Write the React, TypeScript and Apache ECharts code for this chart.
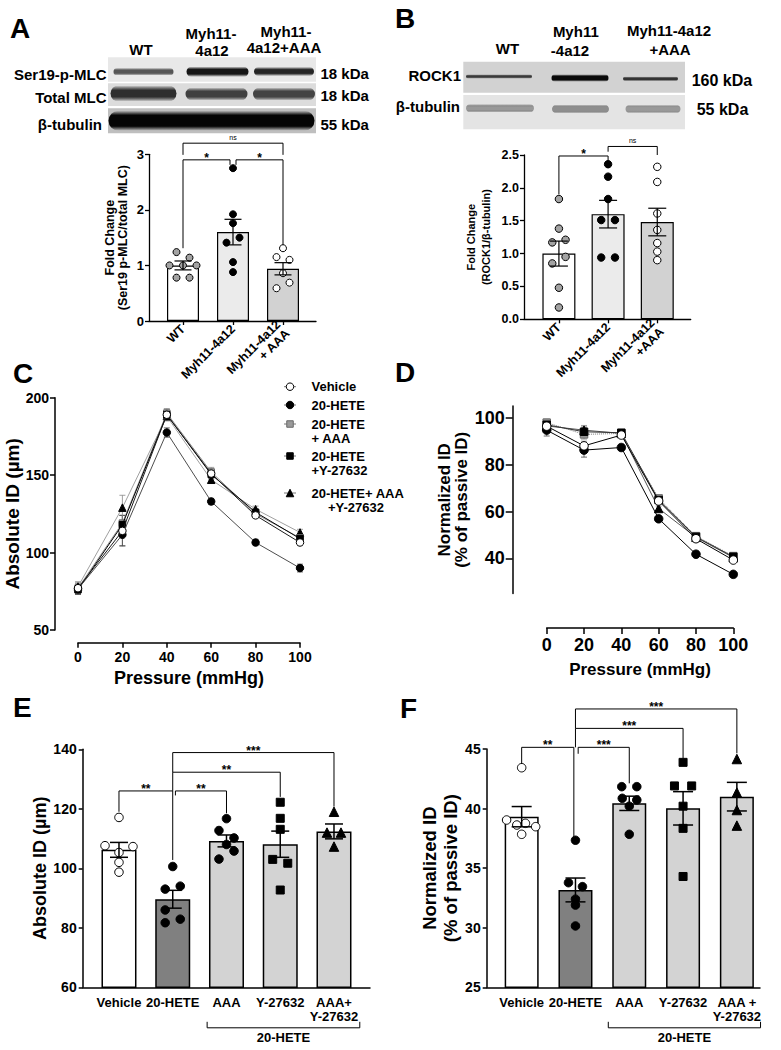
import React, { useEffect, useRef } from "react";
import * as echarts from "echarts";

const FONT = "'Liberation Sans', Arial, Helvetica, sans-serif";

/* ================= DATA ================= */
// Panel A – Ser19 p-MLC / total MLC
const aCategories = ["WT", "Myh11-4a12", "Myh11-4a12\n+ AAA"];
const aMeans = [1.0, 1.6, 0.94];
const aSem = [0.08, 0.23, 0.11];
const aWT = [1.24, 1.14, 1.0, 1.0, 1.0, 0.78, 0.78];
const aMyh = [2.75, 1.92, 1.76, 1.5, 1.41, 1.06, 0.88];
const aAAA = [1.31, 1.15, 1.1, 0.86, 0.69, 0.59];
const aJitWT = [-0.13, 0.13, -0.27, 0, 0.27, -0.13, 0.13];
const aJitMyh = [0, 0, 0, 0.13, -0.13, 0, 0];
const aJitAAA = [0, -0.13, 0.13, 0, 0.13, -0.13];
// bracket: [x1, x2, yTop, yLeftEnd, yRightEnd]
const aBrackets = [
  [0, 0.94, 2.9, 1.31, 2.81],
  [1.06, 2, 2.9, 2.81, 1.37],
  [0, 2, 3.2, 2.99, 2.99],
];
const aBracketLabels = ["*", "*", "ns"];

// Panel B – ROCK1 / beta-tubulin
const bCategories = ["WT", "Myh11-4a12", "Myh11-4a12\n+AAA"];
const bMeans = [1.0, 1.6, 1.48];
const bSem = [0.19, 0.21, 0.21];
const bWT = [1.83, 1.38, 1.21, 1.17, 0.95, 0.85, 0.48, 0.18];
const bMyh = [2.36, 2.17, 1.83, 1.51, 1.51, 0.94, 0.94];
const bAAA = [2.32, 2.09, 1.61, 1.36, 1.16, 1.03, 0.9];
const bJitWT = [0, 0, 0.135, -0.135, 0.135, -0.135, 0, 0];
const bJitMyh = [0, 0, 0, -0.14, 0.14, -0.14, 0.14];
const bJitAAA = [0, 0, 0, 0, 0, 0, 0];
const bBrackets = [
  [0, 1, 2.485, 1.9, 2.42],
  [1, 2, 2.63, 2.55, 2.5],
];
const bBracketLabels = ["*", "ns"];

// Panels C and D – pressure curves
const pressures = [0, 20, 40, 60, 80, 100];
const conditionNames = ["Vehicle", "20-HETE", "20-HETE + AAA", "20-HETE +Y-27632", "20-HETE+ AAA +Y-27632"];
const cVehicle = [77, 114, 189, 151, 124, 106.5];
const cHete = [76.5, 111.5, 177.5, 133, 106.5, 90];
const cHeteAAA = [77, 119, 190, 152, 125, 109.5];
const cHeteY = [76, 118, 189, 150.5, 126, 109];
const cHeteAAAY = [78, 129, 188, 147, 128, 113];
const cVehicleSem = [4, 10, 3, 3, 2, 2];
const cHeteSem = [3, 7, 3, 2, 2, 2.5];
const cHeteAAASem = [3, 5, 3, 3, 2, 2];
const cHeteYSem = [3, 6, 3, 3, 2, 2];
const cHeteAAAYSem = [3, 8, 3, 2, 2, 2];

const dVehicle = [96.4, 88, 92.6, 64.5, 48.4, 39.3];
const dHete = [94.7, 86.2, 87.3, 56.9, 41.8, 33.2];
const dHeteAAA = [97.9, 92.9, 93.3, 65.6, 49.5, 41];
const dHeteY = [97, 94, 93.6, 64.9, 49.2, 40.7];
const dHeteAAAY = [96.5, 94.7, 93.3, 61.3, 49, 40.4];
const dVehicleSem = [2, 2, 1, 1, 1, 1];
const dHeteSem = [2.5, 3, 1, 1, 1, 1];
const dHeteAAASem = [1.5, 2, 1, 1.2, 1, 1];
const dHeteYSem = [1.5, 2, 1, 1, 1, 1];
const dHeteAAAYSem = [1.5, 2, 1, 1, 1, 1];
const dTicks = [40, 60, 80, 100];

// Panel E – absolute ID
const eCategories = ["Vehicle", "20-HETE", "AAA", "Y-27632", "AAA+\nY-27632"];
const eMeans = [106.2, 89.6, 109.2, 108.1, 112.4];
const eSem = [2.5, 3.0, 2.0, 4.4, 2.5];
const eVehicle = [117.1, 107.6, 107.3, 105.3, 102, 98.7];
const eHete = [100.6, 94, 93, 86, 82.9, 81.7];
const eAAA = [116.7, 112.7, 110.2, 108, 105.8, 103.1];
const eY = [122.2, 116.8, 113.1, 103, 101.7, 92.7];
const eAAAY = [119, 112, 112, 107.3];
const eJitVehicle = [0, -0.26, 0.26, 0, 0, 0];
const eJitHete = [0, 0.14, -0.14, -0.14, 0.14, -0.14];
const eJitAAA = [0, -0.14, 0.14, 0, 0.14, -0.14];
const eJitY = [0, 0, 0, -0.14, 0.14, 0];
const eJitAAAY = [0, -0.13, 0.13, 0];
const eBrackets = [
  [0, 1, 126, 119, 102.8],
  [1.05, 2, 126, 124.5, 118.5],
  [1, 3, 132.3, 126, 124],
  [1, 4, 138.9, 132.3, 120.7],
];
const eBracketLabels = ["**", "**", "**", "***"];
const eGroupSpan = [1.64, 4.48];

// Panel F – normalized ID
const fCategories = ["Vehicle", "20-HETE", "AAA", "Y-27632", "AAA +\nY-27632"];
const fMeans = [39.32, 33.17, 40.44, 40.02, 41.0];
const fSem = [0.85, 1.0, 0.6, 1.4, 1.2];
const fVehicle = [43.43, 39.04, 38.62, 38.76, 38.48, 37.84];
const fHete = [37.34, 33.78, 33.45, 32.4, 31.9, 30.15];
const fAAA = [41.84, 41.84, 40.86, 40.72, 40.2, 37.84];
const fY = [43.88, 41.9, 41.9, 40.2, 38.34, 34.3];
const fAAAY = [44.16, 41.34, 39.88, 38.57];
const fJitVehicle = [0, -0.28, -0.09, 0.07, 0.26, 0];
const fJitHete = [0, -0.13, 0.13, 0, 0, 0];
const fJitAAA = [-0.14, 0.14, -0.13, 0.14, 0, 0];
const fJitY = [0, -0.16, 0.16, 0, 0, 0];
const fJitAAAY = [0, 0, 0, 0];
const fBrackets = [
  [0, 0.97, 45.14, 43.74, 37.64],
  [1.05, 2, 45.14, 44.6, 42.12],
  [1, 3, 46.73, 45.14, 44.2],
  [1, 4, 48.36, 46.73, 44.64],
];
const fBracketLabels = ["**", "***", "***", "***"];
const fGroupSpan = [1.61, 4.44];

/* ================= STYLES / LAYOUT ================= */
const condStyles = [
  { symbol: "circle", fill: "#fff", border: "#000", cLine: "#1a1a1a", dLine: "#000", dash: "solid", size: 7.5, z: 8 },
  { symbol: "circle", fill: "#000", border: "#000", cLine: "#4d4d4d", dLine: "#000", dash: "solid", size: 7.5, z: 7 },
  { symbol: "rect", fill: "#9a9a9a", border: "#6a6a6a", cLine: "#8c8c8c", dLine: "#777", dash: "dotted", size: 6.5, z: 5 },
  { symbol: "rect", fill: "#000", border: "#000", cLine: "#000", dLine: "#333", dash: "solid", size: 6.5, z: 6 },
  { symbol: "triangle", fill: "#000", border: "#000", cLine: "#a0a0a0", dLine: "#555", dash: "solid", size: 7.5, z: 4 },
];

function txt(text: string, x: number, y: number, size: number, align = "left", vAlign = "middle", extra: any = {}) {
  return {
    type: "text",
    x,
    y,
    silent: true,
    style: {
      text,
      fontSize: size,
      fontWeight: "bold",
      fontFamily: FONT,
      fill: "#000",
      textAlign: align,
      align,
      textVerticalAlign: vAlign,
      verticalAlign: vAlign,
      ...extra,
    },
  };
}

function band(cx: number, cy: number, w: number, t: number, c: string, flat = 0.5) {
  const lo = (1 - flat) / 2;
  return {
    type: "rect",
    silent: true,
    shape: { x: cx - w / 2, y: cy - t, width: w, height: t * 2, r: t },
    style: {
      fill: new echarts.graphic.LinearGradient(0, 0, 0, 1, [
        { offset: 0, color: "rgba(0,0,0,0)" },
        { offset: lo, color: c },
        { offset: 1 - lo, color: c },
        { offset: 1, color: "rgba(0,0,0,0)" },
      ]),
    },
  };
}

function blotRow(x: number, y: number, w: number, h: number, bg: string) {
  return { type: "rect", silent: true, shape: { x, y, width: w, height: h }, style: { fill: bg } };
}

function symbolShape(kind: string, cx: number, cy: number, s: number, fill: string, stroke: string) {
  const style = { fill, stroke, lineWidth: 1 };
  if (kind === "circle") return { type: "circle", shape: { cx, cy, r: s / 2 }, style, silent: true };
  if (kind === "rect") return { type: "rect", shape: { x: cx - s / 2, y: cy - s / 2, width: s, height: s }, style, silent: true };
  return {
    type: "polygon",
    shape: { points: [[cx, cy - s / 2], [cx + s / 2, cy + s / 2], [cx - s / 2, cy + s / 2]] },
    style,
    silent: true,
  };
}

/* ================= SERIES BUILDERS ================= */
function errorSeries(grid: number, rows: number[][], cap: number, colorOf: (g: number) => string, width: number, z: number) {
  return {
    type: "custom",
    xAxisIndex: grid,
    yAxisIndex: grid,
    silent: true,
    z,
    data: rows,
    renderItem: (_p: any, api: any) => {
      const x = api.value(0);
      const lo = api.coord([x, api.value(1)]);
      const hi = api.coord([x, api.value(2)]);
      const stroke = colorOf(api.value(3));
      const st = { stroke, lineWidth: width };
      return {
        type: "group",
        children: [
          { type: "line", shape: { x1: lo[0], y1: lo[1], x2: hi[0], y2: hi[1] }, style: st },
          { type: "line", shape: { x1: hi[0] - cap, y1: hi[1], x2: hi[0] + cap, y2: hi[1] }, style: st },
          { type: "line", shape: { x1: lo[0] - cap, y1: lo[1], x2: lo[0] + cap, y2: lo[1] }, style: st },
        ],
      };
    },
  };
}

function bracketSeries(grid: number, brackets: number[][], labels: string[], starSize: number, nsSize: number) {
  return {
    type: "custom",
    xAxisIndex: grid,
    yAxisIndex: grid,
    silent: true,
    z: 6,
    data: brackets,
    renderItem: (p: any, api: any) => {
      const x1 = api.value(0), x2 = api.value(1), y = api.value(2), yl = api.value(3), yr = api.value(4);
      const a = api.coord([x1, yl]);
      const b = api.coord([x1, y]);
      const c = api.coord([x2, y]);
      const d = api.coord([x2, yr]);
      const label = labels[p.dataIndex];
      const ns = label === "ns";
      return {
        type: "group",
        children: [
          { type: "polyline", shape: { points: [a, b, c, d] }, style: { stroke: "#000", lineWidth: 1, fill: null } },
          {
            type: "text",
            x: (b[0] + c[0]) / 2,
            y: b[1] - (ns ? 6 : 2),
            style: {
              text: label,
              fontSize: ns ? nsSize : starSize,
              fontWeight: ns ? "normal" : "bold",
              fontFamily: FONT,
              fill: "#000",
              textAlign: "center",
              align: "center",
              textVerticalAlign: "middle",
              verticalAlign: "middle",
            },
          },
        ],
      };
    },
  };
}

function groupBracketSeries(grid: number, span: number[], yMin: number) {
  return {
    type: "custom",
    xAxisIndex: grid,
    yAxisIndex: grid,
    silent: true,
    z: 6,
    data: [span],
    renderItem: (_p: any, api: any) => {
      const p1 = api.coord([api.value(0), yMin]);
      const p2 = api.coord([api.value(1), yMin]);
      const y = p1[1] + 40.5;
      return {
        type: "group",
        children: [
          { type: "polyline", shape: { points: [[p1[0], y - 6], [p1[0], y], [p2[0], y], [p2[0], y - 6]] }, style: { stroke: "#000", lineWidth: 1, fill: null } },
          {
            type: "text",
            x: (p1[0] + p2[0]) / 2,
            y: y + 3,
            style: { text: "20-HETE", fontSize: 13, fontWeight: "bold", fontFamily: FONT, fill: "#000", textAlign: "center", align: "center", textVerticalAlign: "top", verticalAlign: "top" },
          },
        ],
      };
    },
  };
}

function barPanel(cfg: any) {
  const s: any[] = [];
  s.push({
    type: "bar",
    xAxisIndex: cfg.grid,
    yAxisIndex: cfg.grid,
    barWidth: cfg.barWidth,
    silent: true,
    z: 2,
    data: cfg.means.map((m: number, i: number) => ({
      value: [i, m],
      itemStyle: { color: cfg.fills[i], borderColor: "#000", borderWidth: cfg.border },
    })),
  });
  cfg.points.forEach((grp: number[], i: number) => {
    const ps = cfg.pointStyles[i];
    s.push({
      type: "scatter",
      xAxisIndex: cfg.grid,
      yAxisIndex: cfg.grid,
      silent: true,
      z: 3,
      symbol: ps.symbol,
      symbolSize: ps.size,
      itemStyle: { color: ps.color, borderColor: "#000", borderWidth: 1, opacity: 1 },
      data: grp.map((v: number, j: number) => [i + cfg.jitter[i][j], v]),
    });
  });
  s.push(errorSeries(cfg.grid, cfg.means.map((m: number, i: number) => [i, m - cfg.sem[i], m + cfg.sem[i], 0]), cfg.cap, () => "#000", cfg.border, 4));
  s.push(bracketSeries(cfg.grid, cfg.brackets, cfg.labels, cfg.starSize, 7));
  return s;
}

function linePanel(grid: number, sets: number[][], sems: number[][], which: "c" | "d", size: number) {
  const s: any[] = [];
  sets.forEach((vals, g) => {
    const st = condStyles[g];
    s.push({
      type: "line",
      name: conditionNames[g],
      xAxisIndex: grid,
      yAxisIndex: grid,
      silent: true,
      z: st.z,
      symbol: st.symbol,
      symbolSize: st.symbol === "rect" ? size - 1 : size,
      showSymbol: true,
      data: pressures.map((x, i) => [x, vals[i]]),
      lineStyle: { color: which === "c" ? st.cLine : st.dLine, width: 1, type: which === "c" ? "solid" : st.dash },
      itemStyle: { color: st.fill, borderColor: st.border, borderWidth: 1 },
    });
  });
  const rows: number[][] = [];
  sets.forEach((vals, g) => vals.forEach((v, i) => rows.push([pressures[i], v - sems[g][i], v + sems[g][i], g])));
  s.push(errorSeries(grid, rows, 3, (g) => (g === 1 || g === 3 ? "#444" : "#888"), 0.8, 2));
  return s;
}

/* ================= AXES ================= */
function catXAxis(gridIndex: number, min: number, max: number, cats: string[], o: any) {
  const ticks = cats.map((_, i) => i);
  return {
    type: "value",
    gridIndex,
    min,
    max,
    z: 10,
    axisLine: { show: true, onZero: false, lineStyle: { color: "#000", width: o.lw } },
    axisTick: { show: o.ticks, customValues: ticks, length: 4, lineStyle: { color: "#000", width: o.lw } },
    axisLabel: {
      customValues: ticks,
      formatter: (v: number) => cats[Math.round(v)] ?? "",
      rotate: o.rotate,
      fontSize: o.fontSize,
      fontWeight: "bold",
      fontFamily: FONT,
      color: "#000",
      margin: o.margin,
      lineHeight: o.lineHeight,
    },
    splitLine: { show: false },
  };
}

function valAxis(gridIndex: number, o: any) {
  const ax: any = {
    type: "value",
    gridIndex,
    min: o.min,
    max: o.max,
    offset: o.offset || 0,
    z: 10,
    axisLine: { show: true, onZero: false, lineStyle: { color: "#000", width: o.lw } },
    axisTick: { show: true, length: o.tick || 4, lineStyle: { color: "#000", width: o.lw } },
    axisLabel: {
      fontSize: o.fontSize,
      fontWeight: "bold",
      fontFamily: FONT,
      color: "#000",
      margin: o.margin,
      formatter: o.formatter,
    },
    splitLine: { show: false },
    name: o.name,
    nameLocation: "middle",
    nameGap: o.nameGap,
    nameTextStyle: { fontSize: o.nameSize, fontWeight: "bold", fontFamily: FONT, color: "#000", lineHeight: o.nameLH },
  };
  if (o.interval !== undefined) ax.interval = o.interval;
  if (o.custom) {
    ax.axisTick.customValues = o.custom;
    ax.axisLabel.customValues = o.custom;
  }
  return ax;
}

/* ================= OPTION ================= */
function buildOption() {
  const grids = [
    { left: 149, top: 154.3, width: 167, height: 166.7 },
    { left: 524, top: 155, width: 166.7, height: 164.3 },
    { left: 78, top: 397.7, width: 222, height: 232.3 },
    { left: 546.7, top: 406, width: 186.6, height: 187.6 },
    { left: 82.7, top: 749.3, width: 287.3, height: 238 },
    { left: 486.7, top: 749, width: 273.3, height: 238.3 },
  ].map((g) => ({ ...g, containLabel: false, outerBoundsMode: "none" }));

  const xAxis = [
    catXAxis(0, -0.68, 2.66, aCategories, { rotate: 45, fontSize: 12.5, margin: 6, ticks: true, lw: 1.3, lineHeight: 13 }),
    catXAxis(1, -0.71, 2.68, bCategories, { rotate: 45, fontSize: 12.5, margin: 6, ticks: true, lw: 1.3, lineHeight: 13 }),
    valAxis(2, { min: 0, max: 100, interval: 20, offset: 12.7, lw: 1.5, tick: 5, fontSize: 14, margin: 7, name: "Pressure (mmHg)", nameGap: 26, nameSize: 18 }),
    valAxis(3, { min: 0, max: 100, interval: 20, offset: 34.4, lw: 1.5, tick: 6, fontSize: 18, margin: 8, name: "Pressure (mmHg)", nameGap: 33, nameSize: 17 }),
    catXAxis(4, -0.675, 4.67, eCategories, { rotate: 0, fontSize: 13, margin: 8, ticks: false, lw: 1.5, lineHeight: 14 }),
    catXAxis(5, -0.65, 4.43, fCategories, { rotate: 0, fontSize: 13, margin: 8, ticks: false, lw: 1.5, lineHeight: 14 }),
  ];

  const yAxis = [
    valAxis(0, { min: 0, max: 3, interval: 1, lw: 1.3, fontSize: 13, margin: 5, name: "Fold Change\n(Ser19 p-MLC/total MLC)", nameGap: 19, nameSize: 12.5, nameLH: 13.5 }),
    valAxis(1, { min: 0, max: 2.5, interval: 0.5, lw: 1.3, fontSize: 12.5, margin: 5, formatter: (v: number) => v.toFixed(1), name: "Fold Change\n(ROCK1/β-tubulin)", nameGap: 31, nameSize: 11, nameLH: 14.5 }),
    valAxis(2, { min: 50, max: 200, interval: 50, offset: 23, lw: 1.5, tick: 5, fontSize: 14, margin: 6, name: "Absolute ID (µm)", nameGap: 25.5, nameSize: 19 }),
    valAxis(3, { min: 25, max: 105, custom: dTicks, offset: 34, lw: 1.5, tick: 7, fontSize: 18, margin: 8, name: "Normalized ID\n(% of passive ID)", nameGap: 42, nameSize: 17, nameLH: 17.5 }),
    valAxis(4, { min: 60, max: 140, interval: 20, lw: 1.5, tick: 4, fontSize: 14, margin: 6, name: "Absolute ID (µm)", nameGap: 30, nameSize: 18 }),
    valAxis(5, { min: 25, max: 45, interval: 5, lw: 1.5, tick: 4, fontSize: 14, margin: 6, name: "Normalized ID\n(% of passive ID)", nameGap: 24.5, nameSize: 18.5, nameLH: 21 }),
  ];

  const series: any[] = [
    ...barPanel({
      grid: 0, means: aMeans, sem: aSem, points: [aWT, aMyh, aAAA], jitter: [aJitWT, aJitMyh, aJitAAA],
      fills: ["#ffffff", "#ebebeb", "#d2d2d2"],
      pointStyles: [
        { symbol: "circle", color: "#a3a3a3", size: 7 },
        { symbol: "circle", color: "#000", size: 7 },
        { symbol: "circle", color: "#fff", size: 7 },
      ],
      barWidth: 32, border: 1.2, cap: 8.5, brackets: aBrackets, labels: aBracketLabels, starSize: 12,
    }),
    ...barPanel({
      grid: 1, means: bMeans, sem: bSem, points: [bWT, bMyh, bAAA], jitter: [bJitWT, bJitMyh, bJitAAA],
      fills: ["#ffffff", "#ebebeb", "#d2d2d2"],
      pointStyles: [
        { symbol: "circle", color: "#a3a3a3", size: 7.5 },
        { symbol: "circle", color: "#000", size: 7.5 },
        { symbol: "circle", color: "#fff", size: 7.5 },
      ],
      barWidth: 33, border: 1.2, cap: 9, brackets: bBrackets, labels: bBracketLabels, starSize: 12,
    }),
    ...linePanel(2, [cVehicle, cHete, cHeteAAA, cHeteY, cHeteAAAY], [cVehicleSem, cHeteSem, cHeteAAASem, cHeteYSem, cHeteAAAYSem], "c", 7.5),
    ...linePanel(3, [dVehicle, dHete, dHeteAAA, dHeteY, dHeteAAAY], [dVehicleSem, dHeteSem, dHeteAAASem, dHeteYSem, dHeteAAAYSem], "d", 8.5),
    ...barPanel({
      grid: 4, means: eMeans, sem: eSem, points: [eVehicle, eHete, eAAA, eY, eAAAY], jitter: [eJitVehicle, eJitHete, eJitAAA, eJitY, eJitAAAY],
      fills: ["#ffffff", "#808080", "#d3d3d3", "#d3d3d3", "#d3d3d3"],
      pointStyles: [
        { symbol: "circle", color: "#fff", size: 8.5 },
        { symbol: "circle", color: "#000", size: 8.5 },
        { symbol: "circle", color: "#000", size: 8.5 },
        { symbol: "rect", color: "#000", size: 8 },
        { symbol: "triangle", color: "#000", size: 9.5 },
      ],
      barWidth: 35, border: 1.5, cap: 9, brackets: eBrackets, labels: eBracketLabels, starSize: 12,
    }),
    groupBracketSeries(4, eGroupSpan, 60),
    ...barPanel({
      grid: 5, means: fMeans, sem: fSem, points: [fVehicle, fHete, fAAA, fY, fAAAY], jitter: [fJitVehicle, fJitHete, fJitAAA, fJitY, fJitAAAY],
      fills: ["#ffffff", "#808080", "#d3d3d3", "#d3d3d3", "#d3d3d3"],
      pointStyles: [
        { symbol: "circle", color: "#fff", size: 8.5 },
        { symbol: "circle", color: "#000", size: 8.5 },
        { symbol: "circle", color: "#000", size: 8.5 },
        { symbol: "rect", color: "#000", size: 8 },
        { symbol: "triangle", color: "#000", size: 9.5 },
      ],
      barWidth: 34, border: 1.5, cap: 10, brackets: fBrackets, labels: fBracketLabels, starSize: 12,
    }),
    groupBracketSeries(5, fGroupSpan, 25),
  ];

  /* ---------- graphic: letters, blots, legend ---------- */
  const g: any[] = [];
  [["A", 10, 28], ["B", 395, 18], ["C", 13, 373], ["D", 395, 372], ["E", 13, 707.5], ["F", 400, 708.5]].forEach(
    ([t, x, y]: any) => g.push(txt(t, x, y, 28))
  );

  // Blot A
  g.push(blotRow(108, 57.3, 208, 24.4, "#e8e8e8"));
  g.push(blotRow(108, 83.3, 208, 22.7, "#dcdcdc"));
  g.push(blotRow(108, 108.3, 208, 25, "#bfbfbf"));
  g.push(band(143.5, 71.7, 60, 3.8, "#555", 0.35));
  g.push(band(217.5, 71.7, 62, 5.2, "#161616", 0.45));
  g.push(band(284, 71.5, 60, 4.6, "#252525", 0.4));
  g.push(band(143.5, 93.5, 66, 8, "#2e2e2e", 0.4));
  g.push(band(216.5, 94, 62, 6.5, "#404040", 0.4));
  g.push(band(284, 94, 62, 6.5, "#444", 0.4));
  g.push(band(211.5, 120.7, 206, 10, "#050505", 0.55));
  g.push(txt("WT", 141, 49, 15, "center"));
  g.push(txt("Myh11-", 211, 33, 15, "center"));
  g.push(txt("4a12", 212, 50, 15, "center"));
  g.push(txt("Myh11-", 286, 31, 15, "center"));
  g.push(txt("4a12+AAA", 284, 47.5, 15, "center"));
  g.push(txt("Ser19-p-MLC", 106.5, 74, 15, "right"));
  g.push(txt("Total MLC", 106.5, 97, 15, "right"));
  g.push(txt("β-tubulin", 102, 124, 15, "right"));
  g.push(txt("18 kDa", 320.5, 73.3, 15));
  g.push(txt("18 kDa", 320.5, 95.7, 15));
  g.push(txt("55 kDa", 320.5, 124, 15));

  // Blot B
  g.push(blotRow(463.3, 61.7, 221.7, 31, "#d2d2d2"));
  g.push(blotRow(463.3, 95, 221.7, 34.3, "#e4e4e4"));
  g.push(band(499, 76.5, 66, 2.2, "#3a3a3a", 0.3));
  g.push(band(580, 78, 57, 3.8, "#0a0a0a", 0.5));
  g.push(band(650.5, 78.8, 55, 2.4, "#333", 0.3));
  g.push(band(500, 108.3, 68, 4.2, "#999", 0.35));
  g.push(band(580.5, 109, 57, 4.4, "#8e8e8e", 0.35));
  g.push(band(653, 109, 55, 4.2, "#999", 0.35));
  g.push(txt("WT", 507.5, 48, 15, "center"));
  g.push(txt("Myh11", 575.8, 31.7, 15, "center"));
  g.push(txt("-4a12", 570, 50, 15, "center"));
  g.push(txt("Myh11-4a12", 669, 30.7, 15, "center"));
  g.push(txt("+AAA", 670, 49.3, 15, "center"));
  g.push(txt("ROCK1", 461, 75, 15, "right"));
  g.push(txt("β-tubulin", 460, 106, 15, "right"));
  g.push(txt("160 kDa", 691.7, 80, 16));
  g.push(txt("55 kDa", 696.7, 109.3, 16));

  // Legend for C
  const legendLines = [["Vehicle"], ["20-HETE"], ["20-HETE", "+ AAA"], ["20-HETE", "+Y-27632"], ["20-HETE+ AAA", "+Y-27632"]];
  const legendY = [386.7, 405, 424, 456, 493];
  const legendIndent = [0, 0, 0, 0, 16.5];
  legendLines.forEach((lines, i) => {
    const st = condStyles[i];
    const y = legendY[i];
    g.push({ type: "line", silent: true, shape: { x1: 284, y1: y, x2: 296, y2: y }, style: { stroke: "#777", lineWidth: 1 } });
    g.push(symbolShape(st.symbol, 290, y, st.symbol === "rect" ? 6.5 : 7.5, st.fill, st.border));
    g.push(txt(lines[0], 311.5, y, 13));
    if (lines[1]) g.push(txt(lines[1], 311.5 + legendIndent[i], y + 14.5, 13));
  });

  return {
    animation: false,
    backgroundColor: "#fff",
    textStyle: { fontFamily: FONT, color: "#000" },
    grid: grids,
    xAxis,
    yAxis,
    series,
    graphic: { elements: g },
  };
}

export default function App() {
  const ref = useRef<HTMLDivElement>(null);
  useEffect(() => {
    document.body.style.margin = "0";
    const chart = echarts.init(ref.current!, null, { renderer: "svg" });
    chart.setOption(buildOption() as any);
    return () => chart.dispose();
  }, []);
  return <div ref={ref} style={{ width: 781, height: 1050, background: "#fff" }} />;
}
